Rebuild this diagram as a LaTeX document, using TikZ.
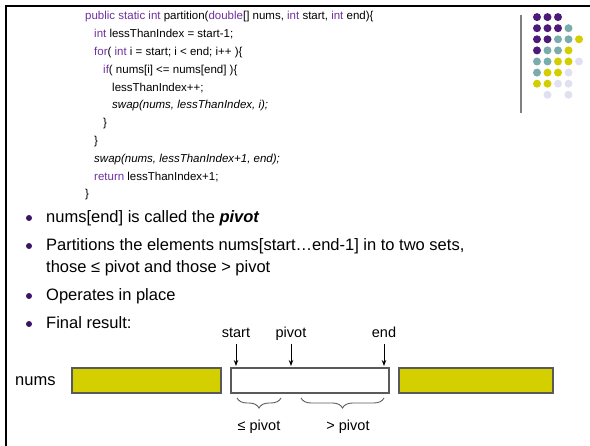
\documentclass[tikz,border=0pt]{standalone}
\usepackage{fontspec}
\setmainfont{Liberation Sans}
\usetikzlibrary{arrows.meta,decorations.pathreplacing}

\definecolor{kw}{RGB}{112,48,160}
\definecolor{dotP}{RGB}{78,26,122}
\definecolor{dotT}{RGB}{122,172,172}
\definecolor{dotY}{RGB}{212,206,0}
\definecolor{dotL}{RGB}{224,224,240}
\definecolor{barfill}{RGB}{212,208,0}
\definecolor{bulletc}{RGB}{60,20,100}
\definecolor{edgegray}{RGB}{90,90,90}

\newcommand{\kwd}[1]{\textcolor{kw}{#1}}

\begin{document}
\begin{tikzpicture}[x=1pt,y=-1pt,
  codeline/.style={anchor=west,inner sep=0pt,font=\fontsize{11.5}{13}\selectfont,
    text height=8.5pt,text depth=2.5pt},
  bullettext/.style={anchor=west,inner sep=0pt,font=\fontsize{16.5}{19}\selectfont,
    text height=12pt,text depth=3.5pt},
  smalllabel/.style={inner sep=0pt,font=\fontsize{14.5}{17}\selectfont,
    text height=10.5pt,text depth=3pt},
  bar/.style={draw=edgegray,line width=1.2pt,fill=barfill},
  whitebar/.style={draw=edgegray,line width=1.2pt,fill=white},
  pointer/.style={line width=1pt,shorten <=3pt,-{Stealth[length=6pt,width=4.5pt]}},
  bracemark/.style={draw=edgegray,line width=0.9pt,decorate,
    decoration={brace,mirror,amplitude=10pt,aspect=0.5}},
  bulletdot/.style={fill=bulletc}
]
\useasboundingbox (0,0) rectangle (590,446);

% slide frame
\draw[line width=2.6pt] (6,446) -- (6,6) -- (590,6);

% decorative dot grid and rule
\draw[gray,line width=1.4pt] (521,15) -- (521,113);
\foreach \c/\r/\k in {1/1/P,2/1/P,3/1/P,
  1/2/P,2/2/P,3/2/P,4/2/T,
  1/3/P,2/3/P,3/3/T,4/3/T,5/3/Y,
  1/4/P,2/4/T,3/4/T,4/4/Y,
  1/5/T,2/5/T,3/5/Y,4/5/Y,5/5/L,
  1/6/T,2/6/Y,3/6/Y,4/6/L,
  1/7/Y,2/7/Y,3/7/L,4/7/L,
  2/8/L,4/8/L}
  \fill[dot\k] (526.5+10.5*\c, 6+11.1*\r) circle (4);

% code listing
\node[codeline] (c1)  at (85,17)    {\kwd{public static int} partition(\kwd{double}[] nums, \kwd{int} start, \kwd{int} end)\{};
\node[codeline] (c2)  at (94,34.8)  {\kwd{int} lessThanIndex = start-1;};
\node[codeline] (c3)  at (94,52.6)  {\kwd{for}( \kwd{int} i = start; i < end; i++ )\{};
\node[codeline] (c4)  at (103,70.4) {\kwd{if}( nums[i] <= nums[end] )\{};
\node[codeline] (c5)  at (112,88.2) {lessThanIndex++;};
\node[codeline] (c6)  at (112,106)  {\itshape swap(nums, lessThanIndex, i);};
\node[codeline] (c7)  at (103,123.8){\}};
\node[codeline] (c8)  at (94,141.6) {\}};
\node[codeline] (c9)  at (94,159.4) {\itshape swap(nums, lessThanIndex+1, end);};
\node[codeline] (c10) at (94,177.2) {\kwd{return} lessThanIndex+1;};
\node[codeline] (c11) at (85,195)   {\}};

% bullet points
\fill[bulletdot] (29,218) circle (3);
\node[bullettext] (b1) at (46,218) {nums[end] is called the \textbf{\textit{pivot}}};
\fill[bulletdot] (29,246) circle (3);
\node[bullettext] (b2) at (46,246) {Partitions the elements nums[start…end-1] in to two sets,};
\node[bullettext] (b2b) at (46,268) {those ≤ pivot and those > pivot};
\fill[bulletdot] (29,296) circle (3);
\node[bullettext] (b3) at (46,296) {Operates in place};
\fill[bulletdot] (29,324) circle (3);
\node[bullettext] (b4) at (46,324) {Final result:};

% array picture
\node[bullettext] (nums) at (15,381) {nums};
\draw[bar] (72,368) rectangle (221,393);
\draw[whitebar] (231,368) rectangle (389,393);
\draw[bar] (399,368) rectangle (553,393);

\node[smalllabel] (lstart) at (236,334) {start};
\node[smalllabel] (lpivot) at (291,334) {pivot};
\node[smalllabel] (lend)   at (384,334) {end};
\coordinate (pstart) at (236,366);
\coordinate (ppivot) at (291,366);
\coordinate (pend)   at (384,366);
\draw[pointer] (lstart) -- (pstart);
\draw[pointer] (lpivot) -- (ppivot);
\draw[pointer] (lend) -- (pend);

\coordinate (l1) at (237,398);
\coordinate (r1) at (281,398);
\coordinate (l2) at (301,398);
\coordinate (r2) at (384,398);
\draw[bracemark] (l1) -- (r1);
\draw[bracemark] (l2) -- (r2);
\node[smalllabel] (le) at (259,427) {≤ pivot};
\node[smalllabel] (gt) at (348,427) {> pivot};
\end{tikzpicture}
\end{document}
